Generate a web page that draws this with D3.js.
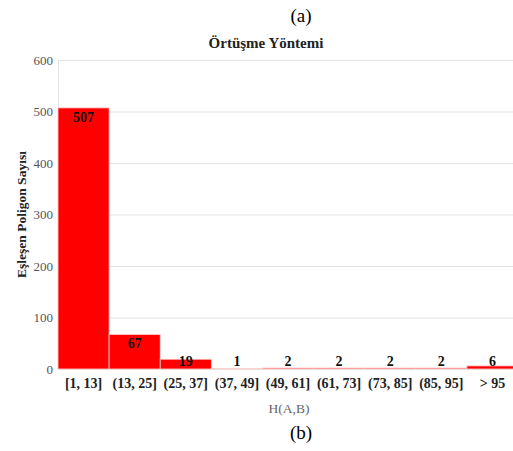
<!DOCTYPE html>
<html>
<head>
<meta charset="utf-8">
<script src="https://cdn.jsdelivr.net/npm/d3@7/dist/d3.min.js"></script>
<style>
  body { margin: 0; background: #fff; }
  svg, svg text { font-family: "Liberation Serif", "Times New Roman", serif; }
</style>
</head>
<body>
<svg id="chart" width="513" height="451"></svg>
<script>
// bins and counts
const categories = ["[1, 13]", "(13, 25]", "(25, 37]", "(37, 49]", "(49, 61]", "(61, 73]", "(73, 85]", "(85, 95]", "> 95"];
const counts = [507, 67, 19, 1, 2, 2, 2, 2, 6];
const yTicks = [0, 100, 200, 300, 400, 500, 600];

const data = categories.map((c, i) => ({ cat: c, n: counts[i] }));

const svg = d3.select("#chart");
const margin = { top: 60, right: -5, bottom: 82, left: 58 };
const width = +svg.attr("width") - margin.left - margin.right;
const height = +svg.attr("height") - margin.top - margin.bottom;

// top caption and title
svg.append("text")
  .attr("x", 301).attr("y", 22)
  .attr("text-anchor", "middle")
  .attr("font-size", "19px")
  .text("(a)");
svg.append("text")
  .attr("x", 266).attr("y", 48)
  .attr("text-anchor", "middle")
  .attr("font-size", "15px")
  .attr("font-weight", "bold")
  .attr("fill", "#222")
  .text("Örtüşme Yöntemi");

const g = svg.append("g").attr("transform", `translate(${margin.left},${margin.top})`);

const x = d3.scaleBand().domain(categories).range([0, width]).padding(0);
const y = d3.scaleLinear().domain([0, 600]).range([height, 0]);

// gridlines
g.append("g")
  .call(d3.axisLeft(y).tickValues(yTicks).tickSize(-width).tickFormat(""))
  .call(s => s.select(".domain").remove())
  .selectAll("line").attr("stroke", "#e3e3e3");

// y tick labels
g.append("g")
  .call(d3.axisLeft(y).tickValues(yTicks).tickSize(0).tickPadding(5))
  .call(s => s.select(".domain").attr("stroke", "#e3e3e3"))
  .selectAll("text")
    .attr("font-size", "13px")
    .attr("fill", "#555");

// bars
g.selectAll("rect.bar")
  .data(data)
  .join("rect")
  .attr("class", "bar")
  .attr("x", d => x(d.cat))
  .attr("y", d => y(d.n))
  .attr("width", x.bandwidth())
  .attr("height", d => height - y(d.n))
  .attr("fill", "#ff0000")
  .attr("stroke", "#ffd0d0")
  .attr("stroke-width", 0.8);

// value labels
g.selectAll("text.val")
  .data(data)
  .join("text")
  .attr("class", "val")
  .attr("x", d => x(d.cat) + x.bandwidth() / 2)
  .attr("y", d => Math.min(y(d.n) + 14, height - 3))
  .attr("text-anchor", "middle")
  .attr("font-size", "14px")
  .attr("font-weight", "bold")
  .attr("fill", "#111")
  .text(d => d.n);

// x axis labels
g.append("g")
  .attr("transform", `translate(0,${height})`)
  .call(d3.axisBottom(x).tickSize(0).tickPadding(9))
  .call(s => s.select(".domain").remove())
  .selectAll("text")
    .attr("font-size", "14px")
    .attr("font-weight", "bold")
    .attr("fill", "#222");

// axis titles
g.append("text")
  .attr("x", 231).attr("y", height + 44)
  .attr("text-anchor", "middle")
  .attr("font-size", "13.5px")
  .attr("fill", "#666")
  .text("H(A,B)");
g.append("text")
  .attr("transform", `translate(${-margin.left + 26},${height / 2}) rotate(-90)`)
  .attr("text-anchor", "middle")
  .attr("font-size", "13.5px")
  .attr("font-weight", "bold")
  .attr("fill", "#222")
  .text("Eşleşen Poligon Sayısı");

// bottom caption
svg.append("text")
  .attr("x", 301).attr("y", 439)
  .attr("text-anchor", "middle")
  .attr("font-size", "19px")
  .text("(b)");
</script>
</body>
</html>
